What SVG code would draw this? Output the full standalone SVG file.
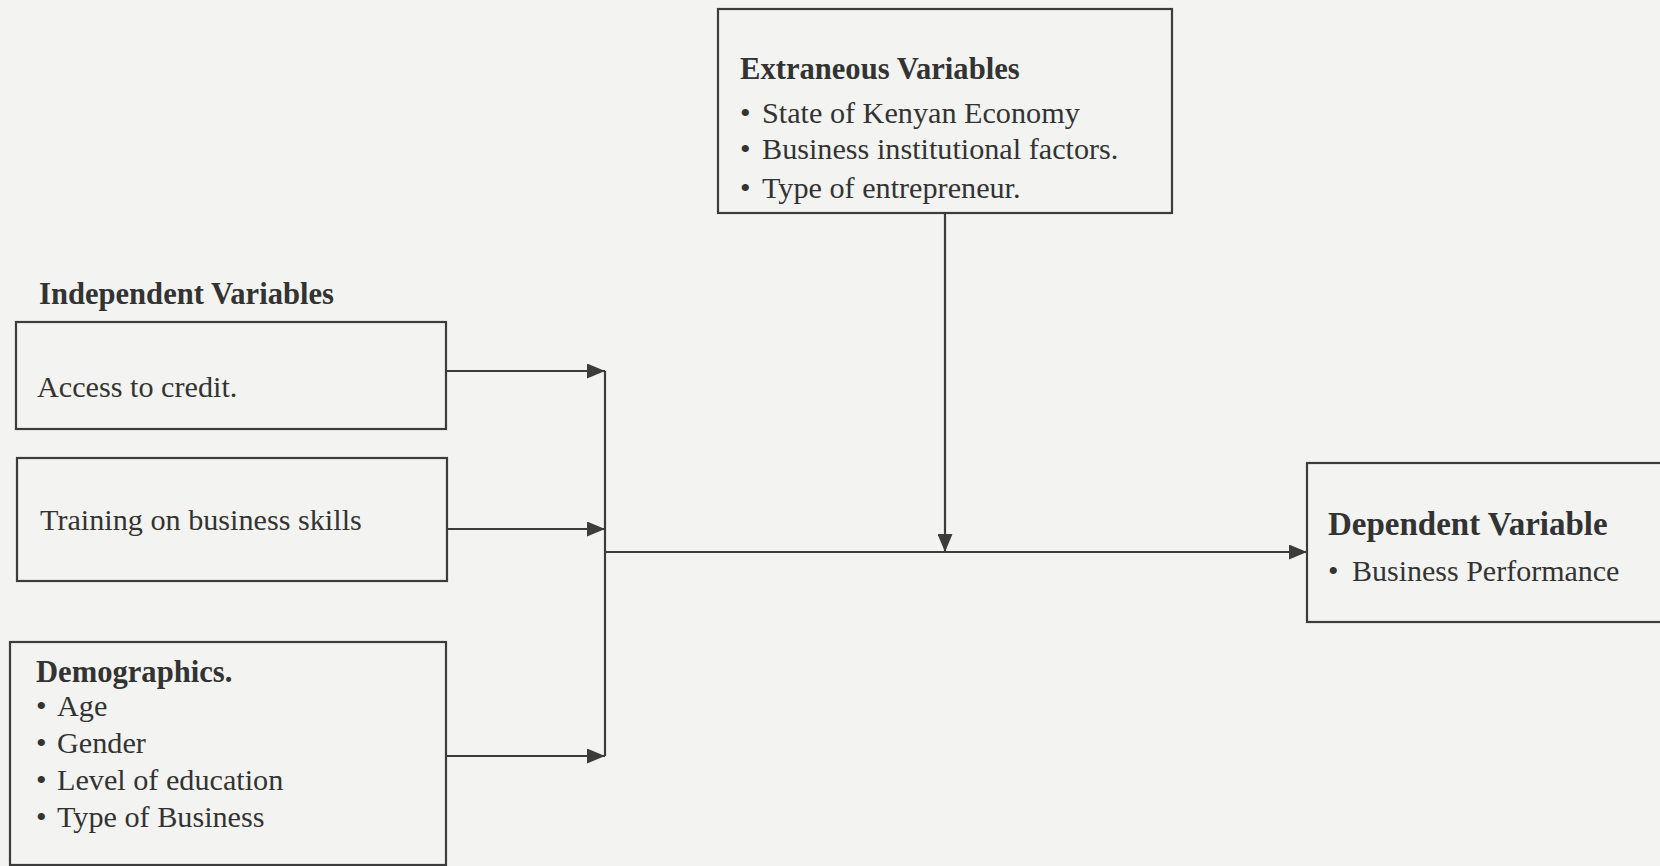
<svg xmlns="http://www.w3.org/2000/svg" width="1660" height="866" viewBox="0 0 1660 866">
<style>
.box{fill:none;stroke:#3c3c3c;stroke-width:2.2}
.ln{fill:none;stroke:#3c3c3c;stroke-width:2.2}
.t{font-family:"Liberation Serif","Times New Roman",serif;font-size:30.2px;fill:#333}
.b{font-weight:bold;font-size:30.6px}
.d{font-size:30px}
.db{font-weight:bold;font-size:33px}
</style>
<defs>
<marker id="ah" markerUnits="userSpaceOnUse" markerWidth="19" markerHeight="15" refX="18" refY="7.5" orient="auto">
<path d="M0,0 L18,7.5 L0,15 Z" fill="#3c3c3c"/>
</marker>
</defs>
<rect width="1660" height="866" fill="#f3f3f1"/>
<g id="extraneous">
<rect class="box" x="718" y="9" width="454" height="204"/>
<text class="t b" x="740" y="79">Extraneous Variables</text>
<text class="t" y="123"><tspan x="740">•</tspan><tspan x="762">State of Kenyan Economy</tspan></text>
<text class="t" y="159"><tspan x="740">•</tspan><tspan x="762">Business institutional factors.</tspan></text>
<text class="t" y="198"><tspan x="740">•</tspan><tspan x="762">Type of entrepreneur.</tspan></text>
</g>
<g id="independent-label">
<text class="t b" x="39" y="304">Independent Variables</text>
</g>
<g id="credit">
<rect class="box" x="16" y="322" width="430" height="107"/>
<text class="t" x="37" y="397">Access to credit.</text>
</g>
<g id="training">
<rect class="box" x="17" y="458" width="430" height="123"/>
<text class="t" x="40" y="530">Training on business skills</text>
</g>
<g id="demographics">
<rect class="box" x="10" y="642" width="436" height="223"/>
<text class="t b" x="36" y="682">Demographics.</text>
<text class="t" y="716"><tspan x="36">•</tspan><tspan x="57">Age</tspan></text>
<text class="t" y="753"><tspan x="36">•</tspan><tspan x="57">Gender</tspan></text>
<text class="t" y="790"><tspan x="36">•</tspan><tspan x="57">Level of education</tspan></text>
<text class="t" y="827"><tspan x="36">•</tspan><tspan x="57">Type of Business</tspan></text>
</g>
<g id="dependent">
<rect class="box" x="1307" y="463" width="360" height="159"/>
<text class="t db" x="1328" y="535">Dependent Variable</text>
<text class="t d" y="581"><tspan x="1328">•</tspan><tspan x="1352">Business Performance</tspan></text>
</g>
<g id="connectors">
<line class="ln" x1="446" y1="371" x2="605" y2="371" marker-end="url(#ah)"/>
<line class="ln" x1="447" y1="529" x2="605" y2="529" marker-end="url(#ah)"/>
<line class="ln" x1="446" y1="756" x2="605" y2="756" marker-end="url(#ah)"/>
<line class="ln" x1="605" y1="371" x2="605" y2="756"/>
<line class="ln" x1="605" y1="552" x2="1307" y2="552" marker-end="url(#ah)"/>
<line class="ln" x1="945" y1="213" x2="945" y2="552" marker-end="url(#ah)"/>
</g>
</svg>
